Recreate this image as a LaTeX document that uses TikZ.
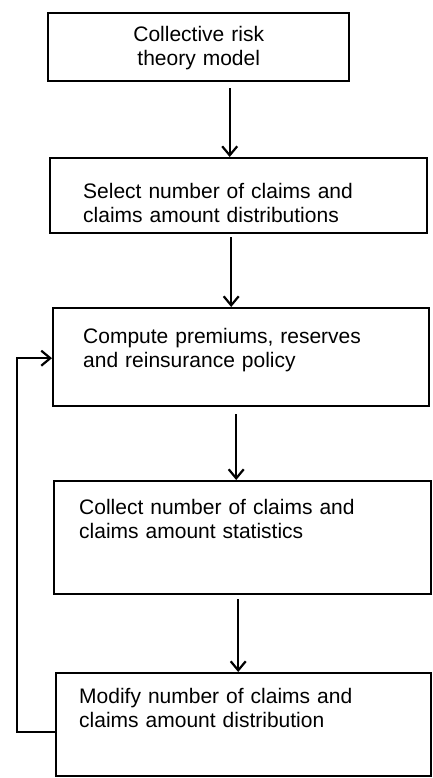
\documentclass[tikz,border=0pt]{standalone}
\usepackage{fontspec}
\setmainfont{Liberation Sans}
\usetikzlibrary{arrows.meta, calc, positioning}
\tikzset{
  % box of the flow chart
  stepbox/.style={draw=black, line width=2.4pt, anchor=north west, align=left,
    inner ysep=0pt, font=\fontsize{21}{24}\selectfont},
  % arrow between two boxes
  flow/.style={line width=1.8pt,
    -{Straight Barb[length=9pt, width=15pt, line width=2.2pt]}},
}
\begin{document}
\begin{tikzpicture}[x=1pt, y=-1pt]
  \useasboundingbox (0,0) rectangle (432,778);
  \node[stepbox, align=center, inner xsep=0pt, text width=301pt, text height=28pt, text depth=40pt] (model) at (47,12) {Collective risk\\theory model};
  \node[stepbox, inner xsep=33pt, text width=311pt, text height=40pt, text depth=35pt] (select) at (49,157) {Select number of claims and\\claims amount distributions};
  \node[stepbox, inner xsep=30pt, text width=316pt, text height=35pt, text depth=63pt] (compute) at (52,307) {Compute premiums, reserves\\and reinsurance policy};
  \node[stepbox, inner xsep=25pt, text width=327pt, text height=33pt, text depth=80pt] (collect) at (53,480) {Collect number of claims and\\claims amount statistics};
  \node[stepbox, inner xsep=23pt, text width=329pt, text height=30pt, text depth=73pt] (modify) at (55,672) {Modify number of claims and\\claims amount distribution};
  % main flow
  \draw[flow] ([xshift=31pt, yshift=-6pt]model.south) -- ([xshift=31pt]model.south |- select.north);
  \draw[flow] ([xshift=-7.5pt, yshift=-3pt]select.south) -- ([xshift=-7.5pt]select.south |- compute.north);
  \draw[flow] ([xshift=-5pt, yshift=-7pt]compute.south) -- ([xshift=-5pt]compute.south |- collect.north);
  \draw[flow] ([xshift=-4.5pt, yshift=-4pt]collect.south) -- ([xshift=-4.5pt]collect.south |- modify.north);
  % feedback loop
  \draw[flow] ([yshift=-7pt]modify.west) -- ++(-38,0) |- ([yshift=-1pt]compute.west);
\end{tikzpicture}
\end{document}
